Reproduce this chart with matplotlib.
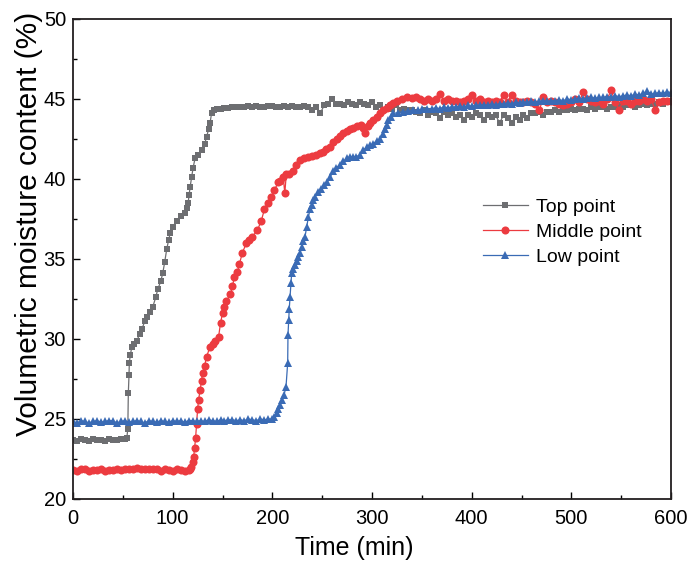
import matplotlib
matplotlib.use("Agg")
import matplotlib.pyplot as plt
from matplotlib.ticker import MultipleLocator

plt.rcParams['font.family'] = ['Liberation Sans', 'DejaVu Sans']

# ---------------- data ----------------
# Top point
top_t_flat = list(range(0, 53, 4))
top_v_flat = [23.7, 23.65, 23.75, 23.7, 23.65, 23.75, 23.7, 23.7, 23.65, 23.75, 23.7, 23.7, 23.75, 23.75]
top_t_rise = [54, 55, 55.5, 56.2, 56.5, 57.5, 59, 61, 64, 67, 69, 72, 74, 77, 80, 83, 85, 88, 90, 92,
              94, 96, 97.5, 100, 104, 108, 112, 114, 115.5, 116.5, 117.5, 119, 120.5, 122.5, 125,
              129, 132, 134, 136, 137.5, 139, 141, 144, 148]
top_v_rise = [23.8, 24.4, 26.6, 27.75, 28.5, 29.0, 29.5, 29.7, 29.9, 30.3, 30.6, 31.1, 31.4, 31.7,
              32.0, 32.6, 33.1, 33.6, 34.1, 34.8, 35.6, 36.2, 36.6, 37.0, 37.4, 37.7, 37.9, 38.2,
              38.5, 39.0, 39.5, 40.1, 40.7, 41.3, 41.5, 41.8, 42.2, 42.6, 43.1, 43.5, 44.1, 44.3,
              44.35, 44.4]
top_t_end = list(range(152, 601, 4))
top_v_end = [44.45, 44.45, 44.5, 44.5, 44.5, 44.5, 44.55, 44.5, 44.55, 44.5,
             44.5, 44.55, 44.55, 44.5, 44.5, 44.55, 44.5, 44.55, 44.5, 44.5,
             44.55, 44.5, 44.3, 44.5, 44.1, 44.6, 44.7, 45.0, 44.7, 44.7,
             44.6, 44.8, 44.7, 44.6, 44.8, 44.7, 44.6, 44.8, 44.5, 44.6,
             44.3, 44.5, 44.4, 44.6, 44.3, 44.4, 44.3, 44.3, 44.2, 44.1,
             44.3, 44.0, 44.2, 44.1, 43.8, 44.2, 44.0, 44.1, 43.9, 44.0,
             43.7, 44.0, 43.9, 44.1, 44.0, 43.7, 44.0, 43.9, 44.0, 43.5,
             44.0, 43.8, 43.5, 43.9, 43.7, 44.0, 43.8, 44.1, 44.1, 44.2,
             44.0, 44.2, 44.2, 44.3, 44.2, 44.3, 44.3, 44.4, 44.3, 44.4,
             44.4, 44.3, 44.5, 44.4, 44.5, 44.5, 44.4, 44.5, 44.5, 44.6,
             44.5, 44.6, 44.6, 44.5, 44.6, 44.7, 44.6, 44.7, 44.7, 44.8,
             44.7, 44.8, 44.8]

# Middle point
mid_t_flat = list(range(0, 117, 4))
mid_v_flat = [21.8, 21.75, 21.85, 21.85, 21.75, 21.8, 21.8, 21.85, 21.75, 21.8,
              21.8, 21.85, 21.8, 21.85, 21.85, 21.9, 21.95, 21.9, 21.9, 21.85,
              21.85, 21.85, 21.75, 21.85, 21.8, 21.75, 21.85, 21.8, 21.75, 21.8]
mid_t_rise = [117, 118.5, 120, 121, 122, 123, 124, 125, 126, 127.5,
              129, 130, 132, 134, 137.5, 140, 142.5, 146, 148, 150,
              152, 154, 158, 160, 162, 165, 167, 170, 174, 177,
              180, 185, 189, 192, 196, 199, 202, 206, 208, 211,
              212.5, 214, 217, 221, 224, 228, 232, 236, 240, 244,
              248, 251, 254, 258, 261, 265, 268, 271, 275, 278,
              281, 285, 289, 291, 293, 296, 298, 301, 305, 308,
              311, 315, 318, 321, 325, 330, 335, 340]
mid_v_rise = [21.9, 22.0, 22.3, 22.6, 23.2, 23.8, 24.7, 25.6, 26.2, 26.8,
              27.4, 27.9, 28.3, 28.9, 29.5, 29.7, 29.9, 30.1, 31.0, 31.6,
              32.0, 32.4, 32.8, 33.3, 33.9, 34.2, 34.7, 35.4, 36.0, 36.2,
              36.4, 36.8, 37.4, 38.1, 38.5, 38.9, 39.3, 39.8, 39.9, 40.1,
              39.1, 40.3, 40.3, 40.5, 40.9, 41.2, 41.3, 41.4, 41.45, 41.5,
              41.6, 41.7, 41.85, 42.0, 42.3, 42.5, 42.7, 42.85, 43.0, 43.1,
              43.2, 43.3, 43.4, 43.2, 42.9, 43.3, 43.5, 43.7, 43.9, 44.1,
              44.3, 44.45, 44.6, 44.75, 44.9, 45.0, 45.1, 45.05]
mid_t_end = list(range(344, 601, 4))
mid_v_end = [45.1, 45.0, 44.9, 45.0, 44.9, 45.0, 45.3, 44.9, 45.0, 44.9,
             44.9, 44.8, 44.9, 45.0, 45.25, 44.9, 45.0, 44.8, 44.9, 44.8,
             44.9, 44.8, 45.25, 44.8, 45.25, 44.9, 44.8, 44.8, 44.9, 44.8,
             44.7, 44.3, 45.15, 44.8, 44.9, 44.8, 44.7, 44.6, 44.7, 44.8,
             45.0, 44.8, 45.45, 45.0, 44.9, 44.8, 44.9, 44.7, 45.0, 45.55,
             44.8, 44.3, 44.9, 44.9, 44.7, 44.9, 44.9, 45.0, 44.9, 45.0,
             44.3, 44.8, 44.9, 44.9, 44.85]

# Low point
low_t_flat = list(range(0, 201, 4))
low_v_flat = [24.85, 24.75, 24.9, 24.85, 24.75, 24.85, 24.9, 24.8, 24.85, 24.9,
              24.9, 24.75, 24.85, 24.9, 24.8, 24.85, 24.9, 24.85, 24.75, 24.9,
              24.85, 24.8, 24.9, 24.85, 24.8, 24.9, 24.85, 24.9, 24.8, 24.9,
              24.9, 24.85, 24.9, 24.85, 24.95, 24.9, 24.85, 24.95, 24.9, 24.95,
              24.95, 24.9, 24.95, 24.9, 25.0, 24.95, 24.9, 25.0, 24.95, 25.0,
              25.0]
low_t_rise = [202, 204.4, 206, 207.7, 210, 211.7, 213.7, 215.4, 215.7, 216.4,
              217, 217.7, 218.7, 219.4, 221, 222.7, 224.5, 226, 228, 229.5,
              231, 232.8, 234.5, 236.1, 237.8, 239.5, 241, 242.8, 246, 249,
              252, 255, 258, 261, 264, 268, 271, 275, 278, 281,
              284, 288, 291, 295, 298, 301, 305, 308, 311, 313,
              315, 316.5, 319, 321.5, 326, 331, 336, 341, 346, 350,
              355]
low_v_rise = [25.1, 25.35, 25.6, 25.9, 26.2, 26.5, 27.0, 28.5, 30.25, 31.2,
              31.9, 32.6, 33.5, 34.1, 34.4, 34.6, 34.9, 35.1, 35.4, 35.75,
              36.1, 36.4, 37.0, 37.6, 38.1, 38.4, 38.7, 38.9, 39.2, 39.4,
              39.6, 39.8, 40.1, 40.5, 40.7, 40.9, 41.1, 41.3, 41.4, 41.4,
              41.4, 41.5, 41.8, 42.0, 42.1, 42.2, 42.4, 42.5, 42.8, 43.1,
              43.4, 43.7, 43.9, 44.1, 44.15, 44.2, 44.25, 44.3, 44.3, 44.35,
              44.4]
low_t_end = list(range(360, 601, 4))
low_v_end = [44.4, 44.45, 44.4, 44.5, 44.45, 44.5, 44.5, 44.55, 44.5, 44.6,
             44.55, 44.6, 44.6, 44.65, 44.6, 44.7, 44.65, 44.7, 44.7, 44.75,
             44.7, 44.8, 44.75, 44.8, 44.8, 44.85, 44.8, 44.85, 44.9, 44.85,
             44.9, 44.9, 44.95, 44.9, 45.0, 44.95, 45.0, 45.05, 45.0, 45.05,
             45.1, 45.05, 45.1, 45.1, 45.15, 45.1, 45.2, 45.15, 45.2, 45.25,
             45.2, 45.3, 45.25, 45.35, 45.5, 45.3, 45.35, 45.4, 45.35, 45.45,
             45.4]

top_t = top_t_flat + top_t_rise + top_t_end
top_v = top_v_flat + top_v_rise + top_v_end
mid_t = mid_t_flat + mid_t_rise + mid_t_end
mid_v = mid_v_flat + mid_v_rise + mid_v_end
low_t = low_t_flat + low_t_rise + low_t_end
low_v = low_v_flat + low_v_rise + low_v_end

labels = ["Top point", "Middle point", "Low point"]
colors = ["#6d6e71", "#ec3b40", "#3a6bb5"]
markers = ["s", "o", "^"]
msizes = [5.0, 5.8, 6.0]

x_label = "Time (min)"
y_label = "Volumetric moisture content (%)"

# ---------------- figure ----------------
fig = plt.figure(figsize=(6.88, 5.62), dpi=100)
ax = fig.add_axes([73/688, 1-499/562, 598/688, 480/562])

series = [(top_t, top_v), (mid_t, mid_v), (low_t, low_v)]
for (t, v), lab, c, m, ms in zip(series, labels, colors, markers, msizes):
    ax.plot(t, v, color=c, lw=0.9, marker=m, ms=ms, mec=c, mfc=c, mew=0, label=lab)

ax.set_xlim(0, 600)
ax.set_ylim(20, 50)
ax.xaxis.set_major_locator(MultipleLocator(100))
ax.xaxis.set_minor_locator(MultipleLocator(50))
ax.yaxis.set_major_locator(MultipleLocator(5))
ax.yaxis.set_minor_locator(MultipleLocator(2.5))
ax.tick_params(which='both', direction='in', top=False, right=False, width=1.0,
               labelsize=14.5, colors='black')
ax.tick_params(which='major', length=5)
ax.tick_params(which='minor', length=3)
ax.tick_params(axis='x', pad=7)
ax.tick_params(axis='y', pad=5)
for s in ax.spines.values():
    s.set_linewidth(1.3)
    s.set_color('#231f20')

ax.set_xlabel(x_label, fontsize=18)
ax.set_ylabel(y_label, fontsize=21.5)
ax.xaxis.set_label_coords(0.4707, -0.078)
ax.yaxis.set_label_coords(-0.050, 0.574)

leg = ax.legend(loc='upper left', bbox_to_anchor=(0.6856, 0.626), frameon=False,
                fontsize=14, handlelength=2.3, handletextpad=0.45, labelspacing=0.38,
                borderpad=0, borderaxespad=0)

fig.savefig("out.png", dpi=100)
